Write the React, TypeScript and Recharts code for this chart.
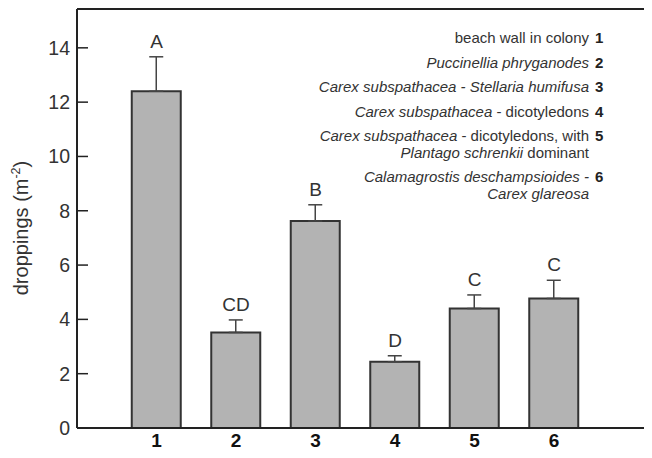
import {
  ComposedChart,
  Bar,
  Line,
  XAxis,
  YAxis,
  ErrorBar,
  LabelList,
  ReferenceLine,
} from "recharts";

// habitat types 1-6
const sites = ["1", "2", "3", "4", "5", "6"];
const means = [12.4, 3.52, 7.62, 2.44, 4.4, 4.77];
const errors = [1.27, 0.46, 0.6, 0.22, 0.5, 0.67];
const letters = ["A", "CD", "B", "D", "C", "C"];
const yTicks = [0, 2, 4, 6, 8, 10, 12, 14];
const yMax = 15.43;

// legend text, [text, italic] pieces per line
const legendEntries: [string, boolean][][][] = [
  [[["beach wall in colony", false]]],
  [[["Puccinellia phryganodes", true]]],
  [[["Carex subspathacea - Stellaria humifusa", true]]],
  [[["Carex subspathacea", true], [" - dicotyledons", false]]],
  [
    [["Carex subspathacea", true], [" - dicotyledons, with", false]],
    [["Plantago schrenkii", true], [" dominant", false]],
  ],
  [[["Calamagrostis deschampsioides -", true]], [["Carex glareosa", true]]],
];

const FONT = "'Liberation Sans', Arial, Helvetica, sans-serif";
const AXIS_X = 69;

const chartData = sites.map((site, i) => ({
  site,
  mean: means[i],
  err: [0, errors[i]],
  hi: means[i] + errors[i],
  letter: letters[i],
}));

function YTick(props: any) {
  const { y, payload } = props;
  return (
    <g>
      <line x1={AXIS_X} x2={AXIS_X + 11} y1={y} y2={y} stroke="#222" strokeWidth={1.5} />
      <text x={AXIS_X - 7} y={y} dy="0.36em" textAnchor="end" fontSize={19.5} fill="#333" fontFamily={FONT}>
        {payload.value}
      </text>
    </g>
  );
}

function YLabel() {
  const cy = 220;
  const x = 20;
  return (
    <text
      x={x}
      y={cy}
      transform={`rotate(-90, ${x}, ${cy})`}
      textAnchor="middle"
      fontSize={20}
      fill="#333"
      fontFamily={FONT}
    >
      droppings (m
      <tspan fontSize={12.5} dy={-8.5}>-2</tspan>
      <tspan dy={8.5}>)</tspan>
    </text>
  );
}

function LegendBox() {
  const textEnd = 581;
  let y = 35;
  const rows: any[] = [];
  legendEntries.forEach((entry, i) => {
    entry.forEach((line, j) => {
      rows.push(
        <text key={`${i}-${j}`} x={textEnd} y={y} textAnchor="end" fontSize={15} fill="#333" fontFamily={FONT}>
          {line.map(([t, it], k) => (
            <tspan key={k} fontStyle={it ? "italic" : "normal"}>{t}</tspan>
          ))}
        </text>
      );
      if (j === 0) {
        rows.push(
          <text key={`n${i}`} x={textEnd + 6} y={y} fontSize={15} fontWeight="bold" fill="#222" fontFamily={FONT}>
            {sites[i]}
          </text>
        );
      }
      y += j < entry.length - 1 ? 17 : 0;
    });
    y += i === 4 ? 24 : 24.5;
  });
  return (
    <svg width={644} height={450} style={{ position: "absolute", left: 0, top: 0, pointerEvents: "none" }}>
      {rows}
      <YLabel />
    </svg>
  );
}

export default function App() {
  return (
    <div style={{ position: "relative", width: 644, height: 450 }}>
      <ComposedChart
        width={644}
        height={450}
        data={chartData}
        margin={{ top: 1, right: 0, bottom: 0, left: 0 }}
        style={{ fontFamily: FONT }}
      >
        <XAxis
          dataKey="site"
          height={30}
          padding={{ left: 39.75, right: 58.25 }}
          axisLine={{ stroke: "#222", strokeWidth: 2 }}
          tickLine={false}
          tickMargin={0}
          tick={{ fontSize: 19, fontWeight: "bold", fill: "#111" }}
        />
        <YAxis
          width={AXIS_X}
          domain={[0, yMax]}
          ticks={yTicks}
          allowDataOverflow
          axisLine={{ stroke: "#222", strokeWidth: 2 }}
          tickLine={false}
          tick={<YTick />}
        />
        <ReferenceLine y={yMax} stroke="#222" strokeWidth={2} />
        <Bar dataKey="mean" barSize={49} fill="#b3b3b3" stroke="#333" strokeWidth={2} isAnimationActive={false}>
          <ErrorBar dataKey="err" width={7} stroke="#444" strokeWidth={1.5} direction="y" />
        </Bar>
        <Line dataKey="hi" stroke="none" dot={false} activeDot={false} isAnimationActive={false}>
          <LabelList dataKey="letter" position="top" offset={9} fontSize={19} fill="#333" fontFamily={FONT} />
        </Line>
      </ComposedChart>
      <LegendBox />
    </div>
  );
}
